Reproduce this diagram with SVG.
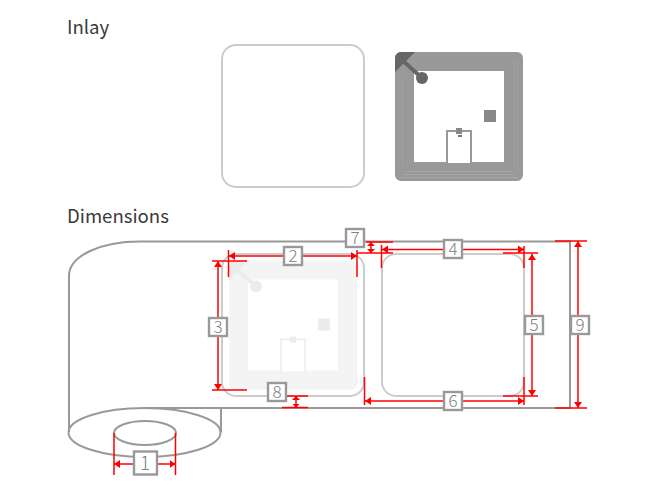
<svg xmlns="http://www.w3.org/2000/svg" width="657" height="495" viewBox="0 0 657 495">
<style>
.h{font:400 18.600px "Noto Sans CJK JP","Noto Sans",sans-serif;fill:#3a3a3a}
.o{fill:none;stroke:#ccc;stroke-width:2}
.r{fill:none;stroke:#999;stroke-width:2}
.d{fill:none;stroke:#f00;stroke-width:1.500}
.a{marker-start:url(#ar);marker-end:url(#ar)}
.s{marker-start:url(#as);marker-end:url(#as)}
.b{fill:#fff;stroke:#999;stroke-width:2.400}
.t{font:300 17px "Noto Sans CJK JP","Noto Sans",sans-serif;fill:#808080;text-anchor:middle}
</style>
<defs>
<marker id="ar" markerUnits="userSpaceOnUse" markerWidth="7" markerHeight="10" refX="6" refY="5" orient="auto-start-reverse"><path d="M0 1L6 5L0 9Z" fill="#f00"/></marker>
<marker id="as" markerUnits="userSpaceOnUse" markerWidth="5" markerHeight="10" refX="4" refY="5" orient="auto-start-reverse"><path d="M0 1L4 5L0 9Z" fill="#f00"/></marker>
<g id="ant">
<path fill-rule="evenodd" d="M401 52H517a6 6 0 0 1 6 6V175a6 6 0 0 1-6 6H401a6 6 0 0 1-6-6V58a6 6 0 0 1 6-6ZM414 71V162H446V130H472V162H504V71Z"/>
</g>
</defs>
<text class="h" x="67" y="34">Inlay</text>
<text class="h" x="67" y="223">Dimensions</text>
<g id="inlay-outline"><rect class="o" x="222" y="45" width="142" height="142" rx="14"/></g>
<g id="inlay-antenna">
<use href="#ant" fill="#999"/>
<path fill="none" stroke="#a6a6a6" stroke-width="1" d="M400 177.500H518M403 174.500H515M406 171.500H512"/>
<path fill="none" stroke="#a0a0a0" stroke-width="1" d="M399 74V170M402.500 76V166M514.500 62V168M517.500 60V172"/>
<path fill="#666" d="M401 52H415L395 72V58a6 6 0 0 1 6-6Z"/>
<path stroke="#666" stroke-width="4" d="M402 60L422 78"/>
<circle cx="422" cy="78" r="6" fill="#666"/>
<rect x="484" y="110" width="12" height="12" fill="#888"/>
<rect x="447" y="131" width="24" height="33" fill="#fff" stroke="#999" stroke-width="2"/>
<rect x="456" y="128" width="6" height="6" fill="#888"/>
<rect x="458" y="135" width="4" height="2" fill="#777"/>
</g>
<g id="roll">
<path class="r" d="M69 432V276C69 256 100 241.500 140 241.500H570V408H145M221 408V432"/>
<ellipse class="r" cx="144.500" cy="432.500" rx="76" ry="24.500"/>
<ellipse class="r" cx="145" cy="433" rx="31" ry="12"/>
</g>
<g id="label-left">
<g transform="translate(-166 208.500)" fill="#f4f4f4">
<use href="#ant"/>
<path fill="#ececec" d="M401 52H415L395 72V58a6 6 0 0 1 6-6Z"/>
<path stroke="#ececec" stroke-width="4" d="M402 60L422 78"/>
<circle cx="422" cy="78" r="6" fill="#ececec"/>
<rect x="484" y="110" width="12" height="12" fill="#ececec"/>
<rect x="447" y="131" width="24" height="33" fill="#fff" stroke="#f0f0f0" stroke-width="2"/>
<rect x="456" y="128" width="6" height="6" fill="#ececec"/>
</g>
<rect class="o" x="222" y="254" width="142" height="142" rx="14"/>
</g>
<g id="label-right"><rect class="o" x="382" y="254" width="142" height="142" rx="14"/></g>
<g id="connectors">
<path class="d" d="M228.500 250V277M357 250V277M212 261H247M212 390H247M366 242H393M357 253H393M381.500 245V268M524 246V268M503 253H538M503 396H538M364.500 377V405M524 377V405M555 241H587M555 408H587M287 396H308M282 407.500H308M114 433V475M175.500 433V475"/>
<path class="d a" d="M229 256H357"/>
<path class="d a" d="M218 261V390"/>
<path class="d s" d="M371 242V253"/>
<path class="d a" d="M382 249.500H524"/>
<path class="d a" d="M532 254V396"/>
<path class="d a" d="M365 401H524"/>
<path class="d a" d="M578 241V408"/>
<path class="d s" d="M296 396V407.500"/>
<path class="d a" d="M114 464H175.500"/>
</g>
<g id="n1"><rect class="b" x="134" y="451.500" width="23" height="23"/><text class="t" x="145" y="470" style="font-size:19px">1</text></g>
<g id="n2"><rect class="b" x="284" y="247" width="18" height="18"/><text class="t" x="293" y="262">2</text></g>
<g id="n3"><rect class="b" x="209" y="318" width="18" height="18"/><text class="t" x="218" y="333">3</text></g>
<g id="n4"><rect class="b" x="444" y="240" width="18" height="18"/><text class="t" x="453" y="255">4</text></g>
<g id="n5"><rect class="b" x="525" y="316" width="18" height="18"/><text class="t" x="534" y="331">5</text></g>
<g id="n6"><rect class="b" x="444" y="392" width="18" height="18"/><text class="t" x="453" y="407">6</text></g>
<g id="n7"><rect class="b" x="346" y="229" width="18" height="18"/><text class="t" x="355" y="244">7</text></g>
<g id="n8"><rect class="b" x="268" y="383" width="18" height="18"/><text class="t" x="277" y="398">8</text></g>
<g id="n9"><rect class="b" x="571" y="316" width="18" height="18"/><text class="t" x="580" y="331">9</text></g>
</svg>
